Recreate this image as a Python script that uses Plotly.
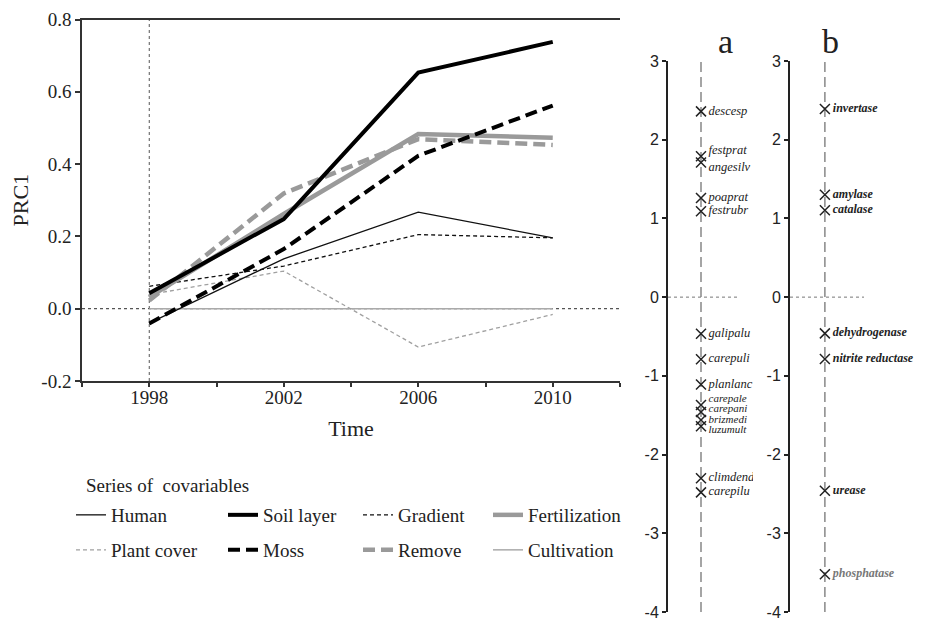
import plotly.graph_objects as go

# ---------------- data ----------------
years = [1998, 2002, 2006, 2010]
human = [-0.04, 0.138, 0.267, 0.196]
soil_layer = [0.043, 0.248, 0.653, 0.738]
gradient = [0.062, 0.118, 0.205, 0.196]
fertilization = [0.032, 0.262, 0.483, 0.473]
plant_cover = [0.039, 0.104, -0.106, -0.016]
moss = [-0.041, 0.165, 0.423, 0.562]
remove = [0.023, 0.319, 0.469, 0.453]
cultivation = [0.0, 0.0, 0.0, 0.0]

x_tick_vals = [1996, 1998, 2000, 2002, 2004, 2006, 2008, 2010, 2012]
x_tick_text = ["", "1998", "", "2002", "", "2006", "", "2010", ""]
y_tick_vals = [-0.2, 0.0, 0.2, 0.4, 0.6, 0.8]
y_tick_text = ["-0.2", "0.0", "0.2", "0.4", "0.6", "0.8"]

species_a = ["descesp", "festprat", "angesilv", "poaprat", "festrubr", "galipalu",
             "carepuli", "planlanc", "carepale", "carepani", "brizmedi", "luzumult",
             "climdend", "carepilu"]
scores_a = [2.36, 1.79, 1.71, 1.26, 1.09, -0.465, -0.79, -1.11, -1.37, -1.46,
            -1.56, -1.64, -2.30, -2.48]

enzymes_b = ["invertase", "amylase", "catalase", "dehydrogenase",
             "nitrite reductase", "urease", "phosphatase"]
scores_b = [2.39, 1.30, 1.105, -0.46, -0.785, -2.46, -3.52]

panel_tick_vals = [-4, -3, -2, -1, 0, 1, 2, 3]
panel_tick_text = ["-4", "-3", "-2", "-1", "0", "1", "2", "3"]

# ---------------- styling helpers ----------------
W, H = 930, 620
OFF = 8  # page offset of the plot div in the browser


def fx(p):
    return (p - OFF) / W


def fy(p):
    return 1 - (p - OFF) / H


SERIF = "Liberation Serif"
SANS = "Liberation Sans"
INK = "#222222"
GRAY = "#9a9a9a"

series = [
    # name, values, color, width, dash, legend
    ("Human", human, "#111111", 1.3, "solid", "legend"),
    ("Soil layer", soil_layer, "#000000", 4, "solid", "legend3"),
    ("Gradient", gradient, "#111111", 1.3, "4px,3px", "legend5"),
    ("Fertilization", fertilization, GRAY, 4.5, "solid", "legend7"),
    ("Plant cover", plant_cover, "#a0a0a0", 1.3, "4px,3px", "legend2"),
    ("Moss", moss, "#000000", 4, "12px,6px", "legend4"),
    ("Remove", remove, GRAY, 4.5, "12px,6px", "legend6"),
    ("Cultivation", cultivation, "#aaaaaa", 1.5, "solid", "legend8"),
]

fig = go.Figure()

draw_order = ["Cultivation", "Plant cover", "Gradient", "Human",
              "Remove", "Fertilization", "Moss", "Soil layer"]
by_name = {s[0]: s for s in series}
for nm in draw_order:
    name, vals, col, wd, dash, lg = by_name[nm]
    fig.add_trace(go.Scatter(
        x=years, y=vals, mode="lines", name=name,
        line=dict(color=col, width=wd, dash=dash),
        legend=lg, showlegend=True, hoverinfo="skip",
        xaxis="x", yaxis="y"))

LABEL_DX = 0.075  # label gap right of the cross (axis units = 100 px)
# small vertical label nudges so crowded labels do not collide
nudge_a = [0, 0.07, -0.07, 0, 0, 0, 0, 0, 0.072, 0.03, 0.0, -0.057, 0, 0]
size_a = [12.5] * 8 + [11] * 4 + [12.5] * 2
nudge_b = [0, 0, 0, 0, 0, 0, 0]

cross = dict(symbol="x-thin", size=10, line=dict(color=INK, width=1.5))

# panel a
fig.add_trace(go.Scatter(
    x=[0] * len(scores_a), y=scores_a, mode="markers", marker=cross,
    xaxis="x2", yaxis="y2", showlegend=False, hoverinfo="skip"))
fig.add_trace(go.Scatter(
    x=[LABEL_DX] * len(scores_a), y=[v + d for v, d in zip(scores_a, nudge_a)],
    mode="text", text=species_a, textposition="middle right", cliponaxis=True,
    textfont=dict(family=SERIF, size=size_a, color=INK, style="italic"),
    xaxis="x2", yaxis="y2", showlegend=False, hoverinfo="skip"))

# panel b
colors_b = [INK] * (len(enzymes_b) - 1) + ["#777777"]
fig.add_trace(go.Scatter(
    x=[0] * len(scores_b), y=scores_b, mode="markers", marker=cross,
    xaxis="x3", yaxis="y3", showlegend=False, hoverinfo="skip"))
fig.add_trace(go.Scatter(
    x=[LABEL_DX] * len(scores_b), y=[v + d for v, d in zip(scores_b, nudge_b)],
    mode="text", text=enzymes_b, textposition="middle right", cliponaxis=True,
    textfont=dict(family=SERIF, size=12, color=colors_b, style="italic", weight="bold"),
    xaxis="x3", yaxis="y3", showlegend=False, hoverinfo="skip"))

shapes = [
    dict(type="line", xref="x", yref="y", x0=1998, x1=1998, y0=-0.2, y1=0.8,
         line=dict(color="#555555", width=1, dash="dot"), layer="below"),
    dict(type="line", xref="x", yref="y", x0=1996, x1=2012, y0=0, y1=0,
         line=dict(color="#555555", width=1.2, dash="dot"), layer="below"),
    dict(type="line", xref="x2", yref="y2", x0=0, x1=0, y0=-4, y1=3,
         line=dict(color="#888888", width=1.5, dash="10px,5px"), layer="below"),
    dict(type="line", xref="x2", yref="y2", x0=-0.33, x1=0.36, y0=0, y1=0,
         line=dict(color="#777777", width=1, dash="dot"), layer="below"),
    dict(type="line", xref="x3", yref="y3", x0=0, x1=0, y0=-4, y1=3,
         line=dict(color="#888888", width=1.5, dash="10px,5px"), layer="below"),
    dict(type="line", xref="x3", yref="y3", x0=-0.33, x1=0.37, y0=0, y1=0,
         line=dict(color="#777777", width=1, dash="dot"), layer="below"),
]

annotations = [
    dict(text="Series of  covariables", x=fx(84), y=fy(485), xref="paper", yref="paper",
         xanchor="left", yanchor="middle", showarrow=False,
         font=dict(family=SERIF, size=19, color=INK)),
    dict(text="a", x=fx(725), y=fy(62), xref="paper", yref="paper",
         xanchor="center", yanchor="bottom", showarrow=False,
         font=dict(family=SERIF, size=34, color=INK)),
    dict(text="b", x=fx(830), y=fy(62), xref="paper", yref="paper",
         xanchor="center", yanchor="bottom", showarrow=False,
         font=dict(family=SERIF, size=34, color=INK)),
]

panel_axis = dict(range=[-4, 3], tickvals=panel_tick_vals, ticktext=panel_tick_text,
                  showline=True, linecolor="#222222", linewidth=2, ticks="outside",
                  ticklen=4, tickcolor="#222222", tickwidth=1.5, showgrid=False,
                  zeroline=False, tickfont=dict(family=SANS, size=16, color=INK),
                  domain=[fy(612), fy(61)], fixedrange=True, automargin=False)

layout = dict(
    width=W, height=H, margin=dict(l=0, r=0, t=0, b=0, autoexpand=False),
    paper_bgcolor="white", plot_bgcolor="white",
    xaxis=dict(domain=[fx(82), fx(620)], range=[1996, 2012], tickvals=x_tick_vals,
               ticktext=x_tick_text, showline=True, mirror=True, linecolor="#333333",
               linewidth=1.5, ticks="outside", ticklen=4, tickcolor="#333333",
               tickwidth=1.5, showgrid=False, zeroline=False, ticklabelstandoff=-6,
               tickfont=dict(family=SERIF, size=19, color=INK),
               title=dict(text="Time", font=dict(family=SERIF, size=22, color=INK),
                          standoff=14),
               anchor="y", automargin=False),
    yaxis=dict(domain=[fy(381), fy(19.5)], range=[-0.2, 0.8], tickvals=y_tick_vals,
               ticktext=y_tick_text, showline=True, linecolor="#333333", linewidth=1.5,
               ticks="outside", ticklen=5, tickcolor="#333333", tickwidth=1.5,
               showgrid=False, zeroline=False,
               tickfont=dict(family=SERIF, size=19, color=INK),
               title=dict(text="PRC1", font=dict(family=SERIF, size=22, color=INK),
                          standoff=10),
               anchor="x", automargin=False),
    xaxis2=dict(domain=[fx(668), fx(753)], range=[-0.33, 0.52], visible=False,
                anchor="y2", fixedrange=True),
    yaxis2=dict(anchor="x2", **panel_axis),
    xaxis3=dict(domain=[fx(790), 1.0], range=[-0.33, 1.07], visible=False,
                anchor="y3", fixedrange=True),
    yaxis3=dict(anchor="x3", **panel_axis),
    shapes=shapes,
    annotations=annotations,
    showlegend=True,
)

col_text_x = [113, 265, 400, 530]
row_y = [515, 550]
legend_names = ["legend", "legend3", "legend5", "legend7",
                "legend2", "legend4", "legend6", "legend8"]
for i, lg in enumerate(legend_names):
    r, c = divmod(i, 4)
    layout[lg] = dict(x=fx(col_text_x[c] - 42), y=fy(row_y[r]), xanchor="left",
                      yanchor="middle", bgcolor="rgba(0,0,0,0)", borderwidth=0,
                      font=dict(family=SERIF, size=19, color=INK), itemwidth=30,
                      itemclick=False, itemdoubleclick=False)

fig.update_layout(**layout)
fig.write_html("out.html")
